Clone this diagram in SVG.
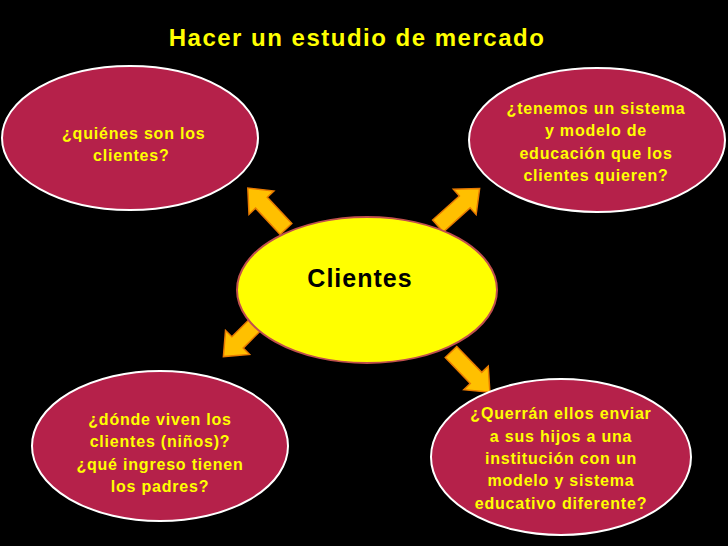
<svg xmlns="http://www.w3.org/2000/svg" width="728" height="546" viewBox="0 0 728 546">
<style>
.q{fill:#B5214A;stroke:#ffffff;stroke-width:2}
.t{font-family:"Liberation Sans",Arial,sans-serif;font-weight:bold;font-size:16px;letter-spacing:0.8px;fill:#FFFF00;text-anchor:middle}
.s{text-anchor:start}
.ar{fill:#FFC000;stroke:#E87A00;stroke-width:1.5}
</style>
<defs><polygon id="arr" points="0,-8 36,-8 36,-17 56,0 36,17 36,8 0,8"/></defs>
<rect width="728" height="546" fill="#000"/>
<text x="357" y="46" font-family="Liberation Sans,Arial,sans-serif" font-weight="bold" font-size="24" letter-spacing="1.5" fill="#FFFF00" text-anchor="middle">Hacer un estudio de mercado</text>
<g id="connectors">
<use href="#arr" class="ar" transform="translate(286,229) rotate(-133)"/>
<use href="#arr" class="ar" transform="translate(438,226) rotate(-42)"/>
<use href="#arr" class="ar" transform="translate(263,317) rotate(135)"/>
<use href="#arr" class="ar" transform="translate(451,352) rotate(46)"/>
</g>
<g id="center"><ellipse cx="367" cy="290" rx="130" ry="73" fill="#FFFF00" stroke="#C0504D" stroke-width="2"/>
<text x="360" y="287" font-family="Liberation Sans,Arial,sans-serif" font-weight="bold" font-size="25" letter-spacing="1" fill="#000" text-anchor="middle">Clientes</text></g>
<g id="n1"><ellipse class="q" cx="130" cy="138" rx="128" ry="72"/>
<text class="t s" x="62" y="139">¿quiénes son los</text><text class="t s" x="93" y="161">clientes?</text></g>
<g id="n2"><ellipse class="q" cx="597" cy="140" rx="128" ry="72"/>
<text class="t" x="596" y="114">¿tenemos un sistema</text><text class="t" x="596" y="136">y modelo de</text><text class="t" x="596" y="159">educación que los</text><text class="t" x="596" y="181">clientes quieren?</text></g>
<g id="n3"><ellipse class="q" cx="160" cy="446" rx="128" ry="75"/>
<text class="t" x="160" y="425">¿dónde viven los</text><text class="t" x="160" y="447">clientes (niños)?</text><text class="t" x="160" y="470">¿qué ingreso tienen</text><text class="t" x="160" y="492">los padres?</text></g>
<g id="n4"><ellipse class="q" cx="561" cy="457" rx="130" ry="78"/>
<text class="t" x="561" y="419">¿Querrán ellos enviar</text><text class="t" x="561" y="442">a sus hijos a una</text><text class="t" x="561" y="464">institución con un</text><text class="t" x="561" y="486">modelo y sistema</text><text class="t" x="561" y="509">educativo diferente?</text></g>
</svg>
